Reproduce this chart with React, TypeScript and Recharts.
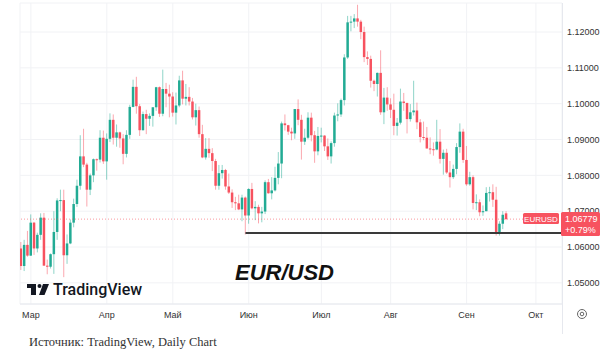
import { ComposedChart, Bar, XAxis, YAxis, CartesianGrid, ReferenceLine } from 'recharts';

// EUR/USD daily candles, 24 Feb – 19 Sep 2023
const dates = [
  '24.02', '27.02', '28.02',
  '01.03', '02.03', '03.03', '06.03', '07.03', '08.03', '09.03', '10.03', '13.03', '14.03', '15.03', '16.03',
  '17.03', '20.03', '21.03', '22.03', '23.03', '24.03', '27.03', '28.03', '29.03', '30.03', '31.03',
  '03.04', '04.04', '05.04', '06.04', '07.04', '10.04', '11.04', '12.04', '13.04', '14.04', '17.04', '18.04',
  '19.04', '20.04', '21.04', '24.04', '25.04', '26.04', '27.04', '28.04',
  '01.05', '02.05', '03.05', '04.05', '05.05', '08.05', '09.05', '10.05', '11.05', '12.05', '15.05', '16.05',
  '17.05', '18.05', '19.05', '22.05', '23.05', '24.05', '25.05', '26.05', '29.05', '30.05', '31.05',
  '01.06', '02.06', '05.06', '06.06', '07.06', '08.06', '09.06', '12.06', '13.06', '14.06', '15.06', '16.06',
  '19.06', '20.06', '21.06', '22.06', '23.06', '26.06', '27.06', '28.06', '29.06', '30.06',
  '03.07', '04.07', '05.07', '06.07', '07.07', '10.07', '11.07', '12.07', '13.07', '14.07', '17.07', '18.07',
  '19.07', '20.07', '21.07', '24.07', '25.07', '26.07', '27.07', '28.07', '31.07',
  '01.08', '02.08', '03.08', '04.08', '07.08', '08.08', '09.08', '10.08', '11.08', '14.08', '15.08', '16.08',
  '17.08', '18.08', '21.08', '22.08', '23.08', '24.08', '25.08', '28.08', '29.08', '30.08', '31.08',
  '01.09', '04.09', '05.09', '06.09', '07.09', '08.09', '11.09', '12.09', '13.09', '14.09', '15.09', '18.09',
  '19.09',
];

const opens = [
  1.0596, 1.0547, 1.0606,
  1.0576, 1.0668, 1.0596, 1.0634, 1.0682, 1.0548, 1.0545, 1.0580, 1.0642, 1.0730, 1.0731, 1.0577,
  1.0610, 1.0668, 1.0720, 1.0771, 1.0853, 1.0830, 1.0760, 1.0800, 1.0845, 1.0844, 1.0905,
  1.0839, 1.0902, 1.0955, 1.0905, 1.0920, 1.0903, 1.0860, 1.0913, 1.0991, 1.1047, 1.0993, 1.0926,
  1.0971, 1.0958, 1.0966, 1.0990, 1.1046, 1.0972, 1.1041, 1.1028,
  1.1020, 1.0975, 1.0995, 1.1065, 1.1014, 1.1019, 1.1006, 1.0962, 1.0982, 1.0915, 1.0850, 1.0874,
  1.0862, 1.0840, 1.0771, 1.0806, 1.0815, 1.0769, 1.0752, 1.0725, 1.0722, 1.0705, 1.0738,
  1.0688, 1.0762, 1.0708, 1.0712, 1.0694, 1.0699, 1.0781, 1.0750, 1.0758, 1.0793, 1.0833, 1.0945,
  1.0940, 1.0922, 1.0917, 1.0985, 1.0955, 1.0894, 1.0905, 1.0961, 1.0912, 1.0867,
  1.0910, 1.0911, 1.0881, 1.0853, 1.0890, 1.0967, 1.0970, 1.1010, 1.1129, 1.1227, 1.1229, 1.1238,
  1.1229, 1.1200, 1.1130, 1.1125, 1.1064, 1.1055, 1.1086, 1.0976, 1.1017,
  1.0998, 1.0983, 1.0938, 1.0947, 1.1006, 1.1002, 1.0957, 1.0976, 1.0981, 1.0948, 1.0907, 1.0905,
  1.0875, 1.0873, 1.0872, 1.0894, 1.0846, 1.0863, 1.0808, 1.0795, 1.0818, 1.0879, 1.0922,
  1.0843, 1.0775, 1.0795, 1.0723, 1.0725, 1.0697, 1.0700, 1.0751, 1.0753, 1.0732, 1.0642, 1.0665,
  1.0694,
];

const highs = [
  1.0614, 1.0620, 1.0645,
  1.0691, 1.0670, 1.0640, 1.0694, 1.0695, 1.0565, 1.0582, 1.0700, 1.0736, 1.0760, 1.0760, 1.0635,
  1.0677, 1.0735, 1.0788, 1.0912, 1.0930, 1.0835, 1.0805, 1.0847, 1.0847, 1.0926, 1.0925,
  1.0917, 1.0973, 1.0970, 1.0942, 1.0922, 1.0915, 1.0926, 1.0997, 1.1067, 1.1075, 1.0999, 1.0978,
  1.0983, 1.0973, 1.0990, 1.1047, 1.1048, 1.1095, 1.1058, 1.1053,
  1.1032, 1.1031, 1.1078, 1.1092, 1.1055, 1.1046, 1.1016, 1.1000, 1.0992, 1.0941, 1.0904, 1.0904,
  1.0876, 1.0846, 1.0829, 1.0829, 1.0818, 1.0805, 1.0761, 1.0740, 1.0746, 1.0746, 1.0741,
  1.0764, 1.0779, 1.0728, 1.0718, 1.0712, 1.0786, 1.0790, 1.0795, 1.0824, 1.0865, 1.0950, 1.0970,
  1.0941, 1.0933, 1.0985, 1.1012, 1.0969, 1.0930, 1.0976, 1.0975, 1.0924, 1.0935,
  1.0933, 1.0912, 1.0903, 1.0895, 1.0975, 1.1001, 1.1014, 1.1138, 1.1245, 1.1245, 1.1250, 1.1276,
  1.1234, 1.1215, 1.1146, 1.1134, 1.1067, 1.1087, 1.1149, 1.1044, 1.1046,
  1.1015, 1.1028, 1.0960, 1.1042, 1.1030, 1.1003, 1.0999, 1.1064, 1.1003, 1.0957, 1.0950, 1.0935,
  1.0906, 1.0892, 1.0955, 1.0929, 1.0872, 1.0874, 1.0840, 1.0830, 1.0890, 1.0945, 1.0930,
  1.0882, 1.0810, 1.0800, 1.0747, 1.0733, 1.0716, 1.0767, 1.0768, 1.0775, 1.0768, 1.0672, 1.0700,
  1.0700,
];

const lows = [
  1.0536, 1.0533, 1.0573,
  1.0575, 1.0578, 1.0585, 1.0620, 1.0548, 1.0524, 1.0540, 1.0525, 1.0620, 1.0700, 1.0516, 1.0553,
  1.0608, 1.0655, 1.0712, 1.0760, 1.0823, 1.0713, 1.0745, 1.0781, 1.0813, 1.0836, 1.0832,
  1.0788, 1.0893, 1.0886, 1.0880, 1.0877, 1.0831, 1.0850, 1.0902, 1.0990, 1.0972, 1.0910, 1.0925,
  1.0915, 1.0938, 1.0936, 1.0980, 1.0963, 1.0965, 1.0990, 1.0962,
  1.0964, 1.0942, 1.0990, 1.0998, 1.0995, 1.0995, 1.0956, 1.0939, 1.0905, 1.0848, 1.0844, 1.0849,
  1.0812, 1.0760, 1.0760, 1.0791, 1.0760, 1.0748, 1.0709, 1.0703, 1.0703, 1.0672, 1.0635,
  1.0665, 1.0705, 1.0675, 1.0666, 1.0669, 1.0692, 1.0749, 1.0733, 1.0755, 1.0775, 1.0792, 1.0925,
  1.0913, 1.0898, 1.0902, 1.0940, 1.0844, 1.0885, 1.0901, 1.0895, 1.0835, 1.0856,
  1.0892, 1.0868, 1.0843, 1.0833, 1.0880, 1.0951, 1.0963, 1.0995, 1.1125, 1.1202, 1.1211, 1.1215,
  1.1180, 1.1116, 1.1108, 1.1045, 1.1035, 1.1020, 1.0969, 1.0943, 1.0980,
  1.0960, 1.0912, 1.0911, 1.0942, 1.0980, 1.0917, 1.0950, 1.0967, 1.0929, 1.0892, 1.0898, 1.0875,
  1.0859, 1.0855, 1.0870, 1.0833, 1.0802, 1.0804, 1.0766, 1.0790, 1.0803, 1.0863, 1.0835,
  1.0771, 1.0771, 1.0705, 1.0703, 1.0686, 1.0687, 1.0700, 1.0727, 1.0712, 1.0632, 1.0632, 1.0650,
  1.0675,
];

const closes = [
  1.0547, 1.0606, 1.0576,
  1.0668, 1.0596, 1.0634, 1.0682, 1.0548, 1.0545, 1.0580, 1.0642, 1.0730, 1.0731, 1.0577, 1.0610,
  1.0668, 1.0720, 1.0771, 1.0853, 1.0830, 1.0760, 1.0800, 1.0845, 1.0844, 1.0905, 1.0839,
  1.0902, 1.0955, 1.0905, 1.0920, 1.0903, 1.0860, 1.0913, 1.0991, 1.1047, 1.0993, 1.0926, 1.0971,
  1.0958, 1.0966, 1.0990, 1.1046, 1.0972, 1.1041, 1.1028, 1.1020,
  1.0975, 1.0995, 1.1065, 1.1014, 1.1019, 1.1006, 1.0962, 1.0982, 1.0915, 1.0850, 1.0874, 1.0862,
  1.0840, 1.0771, 1.0806, 1.0815, 1.0769, 1.0752, 1.0725, 1.0722, 1.0705, 1.0738, 1.0688,
  1.0762, 1.0708, 1.0712, 1.0694, 1.0699, 1.0781, 1.0750, 1.0758, 1.0793, 1.0833, 1.0945, 1.0940,
  1.0922, 1.0917, 1.0985, 1.0955, 1.0894, 1.0905, 1.0961, 1.0912, 1.0867, 1.0910,
  1.0911, 1.0881, 1.0853, 1.0890, 1.0967, 1.0970, 1.1010, 1.1129, 1.1227, 1.1229, 1.1238, 1.1229,
  1.1200, 1.1130, 1.1125, 1.1064, 1.1055, 1.1086, 1.0976, 1.1017, 1.0998,
  1.0983, 1.0938, 1.0947, 1.1006, 1.1002, 1.0957, 1.0976, 1.0981, 1.0948, 1.0907, 1.0905, 1.0875,
  1.0873, 1.0872, 1.0894, 1.0846, 1.0863, 1.0808, 1.0795, 1.0818, 1.0879, 1.0922, 1.0843,
  1.0775, 1.0795, 1.0723, 1.0725, 1.0697, 1.0700, 1.0751, 1.0753, 1.0732, 1.0642, 1.0665, 1.0690,
  1.0678,
];

// first bar of each month (bar index) and its label
const monthTicks = [3, 26, 46, 69, 91, 112, 135, 156];
const monthLabels = ['Мар', 'Апр', 'Май', 'Июн', 'Июл', 'Авг', 'Сен', 'Окт'];

const priceTicks = [1.05, 1.06, 1.07, 1.08, 1.09, 1.1, 1.11, 1.12];
const lastPrice = 1.06779;
const supportLevel = 1.0639;
const supportStart = 68;

const GREEN = '#22ab94';
const RED = '#f7525f';

const candles = dates.map((d, i) => ({
  i,
  d,
  o: opens[i],
  h: highs[i],
  l: lows[i],
  c: closes[i],
}));

function Candle(props: any) {
  const { x, y, width, height, payload } = props;
  if (!payload || !isFinite(x) || !isFinite(y) || !isFinite(height)) return null;
  const { o, h, l, c } = payload;
  const color = c >= o ? GREEN : RED;
  const top = Math.min(y, y + height);
  const span = Math.abs(height);
  const k = span / (h - l);
  const yO = top + (h - o) * k;
  const yC = top + (h - c) * k;
  const cx = x + width / 2;
  return (
    <g>
      <line x1={cx} x2={cx} y1={top} y2={top + span} stroke={color} strokeOpacity={0.5} strokeWidth={1} />
      <rect x={cx - 1.25} y={Math.min(yO, yC)} width={2.5} height={Math.max(Math.abs(yO - yC), 1)} fill={color} />
    </g>
  );
}

export default function App() {
  return (
    <div
      style={{
        position: 'absolute',
        left: 0,
        top: 0,
        width: 600,
        height: 351,
        background: '#fff',
        fontFamily: '"Liberation Sans", Arial, sans-serif',
      }}
    >
      <ComposedChart
        width={600}
        height={335}
        data={candles}
        margin={{ top: 3, right: 0, bottom: 11, left: 20 }}
      >
        <CartesianGrid stroke="#f1f2f5" />
        <XAxis
          dataKey="i"
          type="number"
          domain={[-0.3, 163.9]}
          allowDataOverflow
          ticks={monthTicks}
          tickFormatter={(v: number) => monthLabels[monthTicks.indexOf(v)] ?? ''}
          tick={{ fill: '#333', fontSize: 9 }}
          tickLine={false}
          axisLine={{ stroke: '#e6e8ee' }}
          height={20}
          interval={0}
        />
        <YAxis
          orientation="right"
          type="number"
          domain={[1.0441, 1.1281]}
          allowDataOverflow
          ticks={priceTicks}
          tickFormatter={(v: number) => v.toFixed(5)}
          tick={{ fill: '#333', fontSize: 9 }}
          tickLine={false}
          tickSize={0}
          tickMargin={5}
          axisLine={false}
          width={38}
          interval={0}
        />
        <ReferenceLine y={lastPrice} stroke={RED} strokeOpacity={0.6} strokeDasharray="1 2" />
        <ReferenceLine
          segment={[
            { x: supportStart, y: supportLevel },
            { x: 163.9, y: supportLevel },
          ]}
          stroke="#3a3a3a"
          strokeWidth={2}
          ifOverflow="visible"
        />
        <Bar
          dataKey={(e: any) => [e.l, e.h]}
          barSize={3}
          shape={<Candle />}
          isAnimationActive={false}
        />
      </ComposedChart>

      <svg
        width={600}
        height={351}
        style={{ position: 'absolute', left: 0, top: 0, pointerEvents: 'none' }}
      >
        {/* price scale separator */}
        <line x1={562.5} x2={562.5} y1={3} y2={334} stroke="#e6e8ee" strokeWidth={1} />

        {/* symbol + last price labels */}
        <rect x={523} y={213} width={36} height={11} rx={1.5} fill={RED} />
        <text x={541} y={221.5} fontSize={8} fill="#fff" textAnchor="middle">EURUSD</text>
        <rect x={561} y={212} width={39} height={24} rx={1.5} fill={RED} />
        <text x={565} y={221.5} fontSize={9} fill="#fff">1.06779</text>
        <text x={565} y={232.5} fontSize={9} fill="#fff">+0.79%</text>

        {/* settings icon */}
        <circle cx={582} cy={314} r={4.5} fill="none" stroke="#666" strokeWidth={1} />
        <circle cx={582} cy={314} r={1.8} fill="none" stroke="#666" strokeWidth={1} />

        {/* pair title */}
        <text x={235} y={280} fontSize={22} fontWeight="bold" fontStyle="italic" fill="#111">
          EUR/USD
        </text>

        {/* TradingView logo */}
        <g fill="#131722">
          <rect x={27} y={284} width={9} height={4} />
          <rect x={31} y={284} width={5} height={11} />
          <circle cx={39.5} cy={286} r={2} />
          <polygon points="43,284 49,284 44.5,295 39,295" />
        </g>
        <text x={53} y={295} fontSize={16} fontFamily="Roboto, sans-serif" fontWeight={500} fill="#131722">
          TradingView
        </text>

        <text
          x={29}
          y={346}
          fontSize={12.5}
          fontFamily='"Liberation Serif", "Times New Roman", serif'
          fill="#333"
        >
          Источник: TradingView, Daily Chart
        </text>
      </svg>
    </div>
  );
}
